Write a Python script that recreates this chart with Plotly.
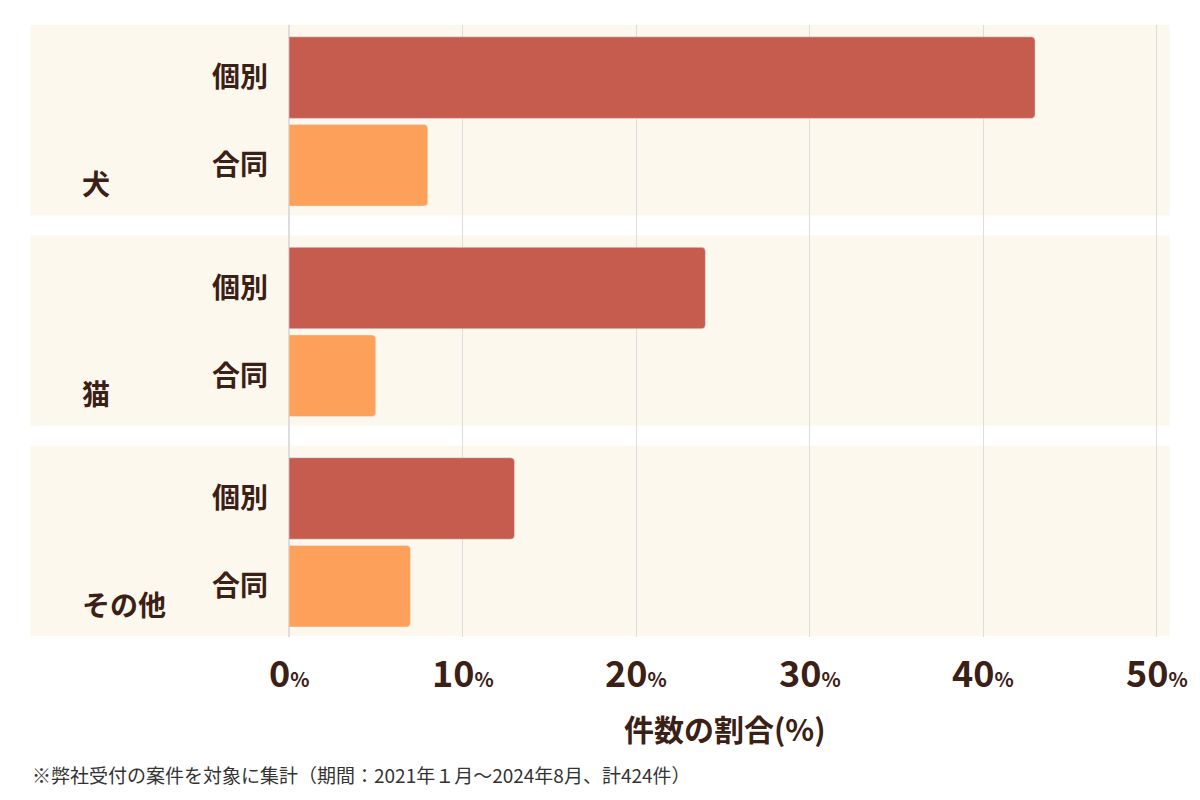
import plotly.graph_objects as go

# data
groups = ['犬', '猫', 'その他']
kinds = ['個別', '合同']
kobetsu = [43, 24, 13]
goudou = [8, 5, 7]
ticks = [0, 10, 20, 30, 40, 50]

FONT = 'Noto Sans CJK JP'
DARK = '#3b2016'
GAP = 2.4  # distance between groups in bar-slots

ys_k = [i * GAP for i in range(len(groups))]
ys_g = [i * GAP + 1 for i in range(len(groups))]

fig = go.Figure()
fig.add_bar(y=ys_k, x=kobetsu, orientation='h', width=0.93,
            marker=dict(color='#c65c4e', cornerradius=4), name='個別')
fig.add_bar(y=ys_g, x=goudou, orientation='h', width=0.93,
            marker=dict(color='#fda05a', cornerradius=4), name='合同')

shapes = []
annotations = []
for i, g in enumerate(groups):
    y0 = i * GAP - 0.6
    shapes.append(dict(type='rect', xref='paper', yref='y', x0=-0.297, x1=1.011,
                       y0=y0, y1=y0 + 2.17, fillcolor='#fdf8ed', line_width=0, layer='below'))
    annotations.append(dict(x=-0.24, xref='paper', y=i * GAP + 1.2, yref='y', text=f'<b>{g}</b>',
                            showarrow=False, font=dict(size=28, color=DARK, family=FONT)))

for t in ticks:
    annotations.append(dict(x=t, xref='x', y=-0.01, yref='paper', yanchor='top',
                            text=f"<b>{t}<span style='font-size:20px'>%</span></b>",
                            showarrow=False, font=dict(size=36, color=DARK, family=FONT)))

annotations.append(dict(x=0.5, xref='paper', y=-0.11, yref='paper', yanchor='top',
                        text='<b>件数の割合(%)</b>', showarrow=False,
                        font=dict(size=30, color=DARK, family=FONT)))
annotations.append(dict(x=-0.297, xref='paper', xanchor='left', y=-0.2, yref='paper', yanchor='top',
                        text='※弊社受付の案件を対象に集計（期間：2021年１月～2024年8月、計424件）',
                        showarrow=False, font=dict(size=19, color='#333333', family=FONT)))

fig.update_layout(
    width=1200, height=800,
    margin=dict(l=281, r=48, t=17, b=171),
    paper_bgcolor='white', plot_bgcolor='rgba(0,0,0,0)',
    showlegend=False, barmode='overlay',
    font=dict(family=FONT, color=DARK),
    shapes=shapes, annotations=annotations,
    xaxis=dict(range=[0, 50.2], tickvals=ticks, showticklabels=False,
               showgrid=True, gridcolor='#dddddd', gridwidth=1, zeroline=True,
               zerolinecolor='#dddddd', layer='below traces'),
    yaxis=dict(range=[5.8 + 0.58, -0.6], tickvals=ys_k + ys_g,
               ticktext=['<b>個別</b>'] * 3 + ['<b>合同</b>'] * 3,
               tickfont=dict(size=28, color=DARK, family=FONT), ticklabelstandoff=20,
               showgrid=False, zeroline=False),
)

fig.write_html('out.html')
